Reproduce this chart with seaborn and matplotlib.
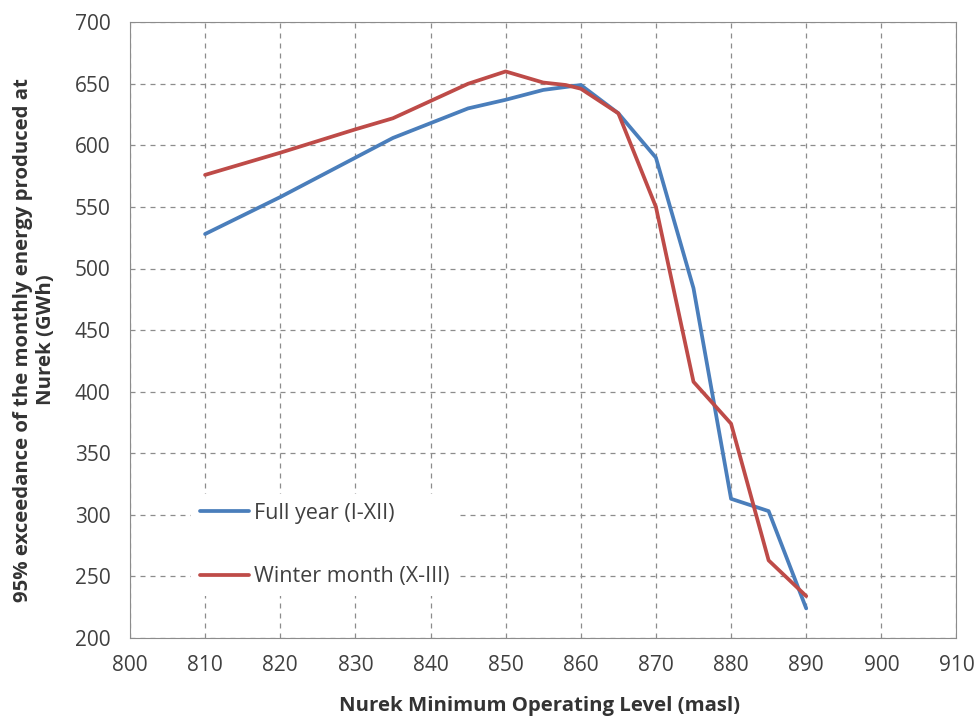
import numpy as np
import pandas as pd
import seaborn as sns
import matplotlib.pyplot as plt

# Nurek minimum operating level (masl)
Levels = [810, 820, 830, 835, 840, 845, 850, 855, 860, 865, 870, 875, 880, 885, 890]
FullYear = [528, 558, 590, 606, 618, 630, 637, 645, 649, 626, 590, 484, 313, 303, 224]
WinterLevels = [810, 820, 830, 835, 840, 845, 850, 855, 858, 860, 865, 870, 875, 880, 885, 890]
WinterMonth = [576, 594, 613, 622, 636, 650, 660, 651, 649, 646, 626, 550, 408, 374, 263, 234]

SeriesNames = ["Full year (I-XII)", "Winter month (X-III)"]
XTicks = list(range(800, 911, 10))
YTicks = list(range(200, 701, 50))


def main():
    Df = pd.concat([
        pd.DataFrame({"Level": Levels, "Energy": FullYear, "Series": SeriesNames[0]}),
        pd.DataFrame({"Level": WinterLevels, "Energy": WinterMonth, "Series": SeriesNames[1]}),
    ])

    sns.set_style("white")
    plt.rcParams["font.family"] = ["Open Sans", "DejaVu Sans"]

    fig = plt.figure(figsize=(9.77, 7.16), dpi=100)
    ax = fig.add_axes([0.133, 0.109, 0.846, 0.860])

    sns.lineplot(data=Df, x="Level", y="Energy", hue="Series", sort=False,
                 palette=["#4A7EBB", "#BE4B48"], linewidth=2.7, ax=ax)

    ax.set_xlim(800, 910)
    ax.set_ylim(200, 700)
    ax.set_xticks(XTicks)
    ax.set_yticks(YTicks)
    ax.grid(True, linestyle=(0, (4, 4)), color="#8c8c8c", linewidth=0.9)
    for s in ax.spines.values():
        s.set_color("#8c8c8c")
    ax.tick_params(axis="both", direction="out", length=5, color="#8c8c8c",
                   labelsize=15, labelcolor="#404040")
    ax.tick_params(axis="y", pad=9)
    ax.tick_params(axis="x", pad=7)

    ax.set_xlabel("Nurek Minimum Operating Level (masl)", fontsize=14.7,
                  fontweight="bold", color="#333333")
    ax.set_ylabel("95% exceedance of the monthly energy produced at\nNurek (GWh)",
                  fontsize=14.7, fontweight="bold", color="#333333")
    ax.xaxis.set_label_coords(0.495, -0.094)
    ax.yaxis.set_label_coords(-0.089, 0.484)

    leg = ax.legend(loc="upper left", bbox_to_anchor=(0.061, 0.251), frameon=True,
                    fontsize=15.5, handlelength=2.3, labelspacing=1.98, handletextpad=0.2,
                    labelcolor="#404040", facecolor="white", edgecolor="none",
                    framealpha=1, fancybox=False)

    fig.savefig("out.png", dpi=100)
    plt.close()


if __name__ == "__main__":
    main()
